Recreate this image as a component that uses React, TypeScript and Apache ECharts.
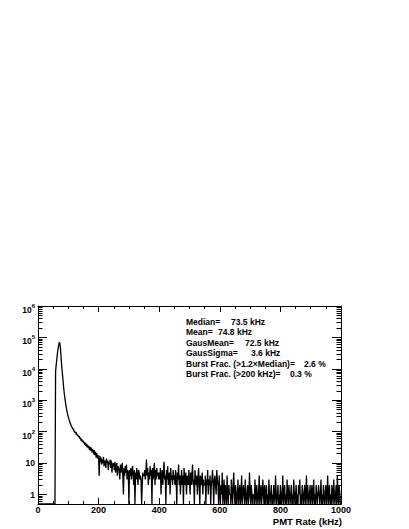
import { useEffect, useRef } from "react";
import * as echarts from "echarts";

// ---- Data (histogram of PMT rate, 2 kHz bins, 0..1000 kHz) ----
const BIN_WIDTH = 2;
const X_MIN = 0;
const X_MAX = 1000;
const Y_MIN = 0.5;
const Y_MAX_DECADE = 6;

const counts000 = [0, 0, 0, 0, 0, 0, 0, 0, 0, 0, 0, 0, 0, 0, 0, 0, 0, 0, 0, 0, 0, 0, 0, 0, 0];
const counts050 = [0, 0, 0, 0, 8000, 13000, 20000, 30000, 42000, 55000, 70000, 66000, 45000, 25000, 13000, 8000, 5000, 3000, 1900, 1300, 950, 700, 540, 430, 350];
const counts100 = [300, 255, 225, 188, 175, 148, 142, 124, 121, 105, 102, 94, 96, 82, 88, 76, 79, 68, 72, 60, 66, 52, 59, 47, 53];
const counts150 = [44, 47, 38, 45, 35, 41, 32, 38, 30, 35, 26, 33, 25, 31, 22, 28, 24, 19, 26, 18, 23, 15, 21, 14, 18];
const counts200 = [14, 4, 17, 11, 15, 9, 13, 10, 16, 8, 12, 11, 7, 14, 10, 12, 6, 11, 9, 13, 7, 12, 5, 9, 10];
const counts250 = [9, 6, 11, 5, 8, 10, 4, 8, 7, 6, 3, 9, 5, 7, 10, 4, 1, 7, 4, 8, 5, 9, 3, 6, 5];
const counts300 = [0, 6, 4, 7, 3, 5, 8, 4, 2, 6, 0, 5, 3, 7, 4, 2, 6, 5, 3, 4, 3, 0, 2, 5, 4];
const counts350 = [4, 6, 3, 5, 13, 4, 7, 2, 5, 3, 8, 4, 6, 0, 7, 3, 5, 10, 2, 6, 3, 7, 4, 5, 3];
const counts400 = [5, 3, 7, 1, 4, 6, 2, 5, 11, 3, 4, 0, 6, 3, 8, 2, 4, 5, 1, 7, 3, 4, 2, 6, 3];
const counts450 = [4, 2, 6, 3, 0, 5, 3, 9, 2, 4, 1, 3, 6, 2, 4, 0, 7, 3, 2, 5, 1, 4, 3, 2, 6];
const counts500 = [3, 1, 5, 2, 4, 9, 2, 3, 0, 6, 3, 2, 4, 1, 3, 7, 2, 0, 4, 3, 2, 5, 1, 3, 2];
const counts550 = [2, 4, 0, 3, 2, 6, 1, 3, 2, 4, 0, 2, 3, 6, 2, 0, 3, 4, 2, 1, 6, 3, 2, 0, 4];
const counts600 = [1, 0, 2, 1, 5, 0, 1, 3, 0, 2, 1, 0, 4, 1, 0, 2, 1, 1, 0, 3, 1, 0, 2, 5, 1];
const counts650 = [0, 2, 1, 0, 1, 3, 0, 1, 2, 0, 1, 4, 0, 1, 2, 1, 0, 3, 1, 0, 1, 2, 0, 1, 5];
const counts700 = [1, 0, 2, 1, 0, 1, 1, 0, 3, 1, 0, 2, 1, 0, 1, 4, 0, 1, 2, 0, 1, 3, 1, 0, 2];
const counts750 = [0, 1, 2, 0, 1, 0, 3, 1, 0, 1, 2, 0, 1, 0, 2, 1, 0, 4, 1, 0, 1, 2, 0, 1, 0];
const counts800 = [2, 1, 0, 1, 4, 0, 1, 2, 0, 1, 0, 3, 1, 0, 2, 1, 0, 1, 2, 0, 1, 0, 3, 1, 0];
const counts850 = [1, 2, 0, 1, 0, 2, 1, 3, 0, 1, 0, 2, 1, 0, 1, 2, 0, 1, 4, 0, 2, 1, 0, 1, 2];
const counts900 = [0, 1, 2, 0, 1, 3, 0, 1, 0, 2, 1, 0, 1, 2, 1, 0, 1, 3, 0, 1, 0, 2, 1, 0, 1];
const counts950 = [2, 0, 1, 4, 0, 1, 2, 0, 1, 0, 2, 1, 0, 3, 1, 0, 1, 2, 0, 4, 1, 0, 2, 1, 0];

const xTickLabels = [0, 200, 400, 600, 800, 1000];
const yDecades = [0, 1, 2, 3, 4, 5, 6];

const statLabels = [
  "Median=",
  "Mean=",
  "GausMean=",
  "GausSigma=",
  "Burst Frac. (>1.2\u00D7Median)=",
  "Burst Frac. (>200 kHz)=",
];
const statValues = ["73.5 kHz", "74.8 kHz", "72.5 kHz", "3.6 kHz", "2.6 %", "0.3 %"];
const xTitle = "PMT Rate (kHz)";

const allCounts = [
  ...counts000, ...counts050, ...counts100, ...counts150, ...counts200,
  ...counts250, ...counts300, ...counts350, ...counts400, ...counts450,
  ...counts500, ...counts550, ...counts600, ...counts650, ...counts700,
  ...counts750, ...counts800, ...counts850, ...counts900, ...counts950,
];

const FONT = '"Liberation Sans", Arial, Helvetica, sans-serif';

export default function App() {
  const ref = useRef<HTMLDivElement>(null);

  useEffect(() => {
    if (!ref.current) return;
    const chart = echarts.init(ref.current, null, { renderer: "svg" });

    const yMinLog = Math.log10(Y_MIN);
    const toLog = (c: number) => (c > 0 ? Math.log10(c) : yMinLog);
    const seriesData: number[][] = allCounts.map((c, i) => [X_MIN + i * BIN_WIDTH, toLog(c)]);
    seriesData.push([X_MAX, toLog(allCounts[allCounts.length - 1])]);

    const minorLog: number[] = [];
    for (let n = -1; n < Y_MAX_DECADE; n++) {
      for (let k = 2; k <= 9; k++) {
        const v = k * Math.pow(10, n);
        if (v > Y_MIN && v < Math.pow(10, Y_MAX_DECADE)) minorLog.push(Math.log10(v));
      }
    }

    const black = "#000";
    const xBase = (pos: "bottom" | "top", showLabels: boolean) => ({
      type: "value",
      position: pos,
      min: X_MIN,
      max: X_MAX,
      interval: 200,
      axisLine: { show: true, onZero: false, lineStyle: { color: black, width: 1 } },
      axisTick: { show: true, inside: true, length: 6, lineStyle: { color: black, width: 1 } },
      minorTick: { show: true, splitNumber: 4, length: 3, lineStyle: { color: black, width: 1 } },
      splitLine: { show: false },
      minorSplitLine: { show: false },
      axisLabel: {
        show: showLabels,
        margin: 1,
        color: black,
        fontSize: 9,
        fontWeight: "bold",
        fontFamily: FONT,
        formatter: (v: number) => (xTickLabels.includes(v) ? String(v) : ""),
      },
    });

    const yBase = (pos: "left" | "right", major: boolean) => ({
      type: "value",
      position: pos,
      min: yMinLog,
      max: Y_MAX_DECADE,
      axisLine: { show: major, onZero: false, lineStyle: { color: black, width: 1 } },
      axisTick: {
        show: true,
        inside: true,
        length: major ? 9 : 4.5,
        customValues: major ? yDecades : minorLog,
        lineStyle: { color: black, width: 1 },
      },
      splitLine: { show: false },
      axisLabel: { show: false },
    });

    const yMain: any = yBase("left", true);
    yMain.axisLabel = {
      show: true,
      customValues: yDecades,
      margin: 3,
      color: black,
      fontFamily: FONT,
      fontWeight: "bold",
      fontSize: 8.5,
      formatter: (v: number) => {
        const n = Math.round(v);
        if (n === 0) return "{p|1}";
        if (n === 1) return "{p|10}";
        return "{b|10}{s|" + n + "}";
      },
      rich: {
        p: { fontSize: 8.5, fontWeight: "bold", fontFamily: FONT, color: black, lineHeight: 12, height: 12 },
        b: { fontSize: 8.5, fontWeight: "bold", fontFamily: FONT, color: black, verticalAlign: "bottom", lineHeight: 12, height: 4 },
        s: { fontSize: 6, fontWeight: "bold", fontFamily: FONT, color: black, verticalAlign: "top", lineHeight: 12, height: 12 },
      },
    };

    const statX = 186;
    const statValueX = [231, 218, 245, 251, 304, 290];
    const statY0 = 321.5;
    const statDy = 10.5;
    const textStyle = { fontFamily: FONT, fontWeight: "bold", fontSize: 8.5, fill: black };
    const graphics: any[] = [];
    statLabels.forEach((t, i) => {
      graphics.push({
        type: "text",
        x: statX,
        y: statY0 + i * statDy,
        style: { ...textStyle, text: t, textAlign: "left", textVerticalAlign: "middle" },
      });
      graphics.push({
        type: "text",
        x: statValueX[i],
        y: statY0 + i * statDy,
        style: { ...textStyle, text: statValues[i], textAlign: "left", textVerticalAlign: "middle" },
      });
    });
    graphics.push({
      type: "text",
      x: 342,
      y: 521,
      style: { ...textStyle, fontSize: 9.5, text: xTitle, textAlign: "right", textVerticalAlign: "middle" },
    });

    chart.setOption({
      animation: false,
      backgroundColor: "#fff",
      grid: { left: 38, top: 306, width: 303, height: 198, containLabel: false },
      xAxis: [xBase("bottom", true), xBase("top", false)],
      yAxis: [yMain, yBase("left", false), yBase("right", true), yBase("right", false)],
      series: [
        {
          type: "line",
          xAxisIndex: 0,
          yAxisIndex: 0,
          step: "end",
          data: seriesData,
          showSymbol: false,
          symbol: "none",
          clip: true,
          lineStyle: { color: black, width: 1.3 },
          emphasis: { disabled: true },
        },
      ],
      graphic: graphics,
    });

    return () => chart.dispose();
  }, []);

  return (
    <div
      ref={ref}
      style={{ position: "absolute", left: 0, top: 0, width: 409, height: 529, background: "#fff" }}
    />
  );
}
